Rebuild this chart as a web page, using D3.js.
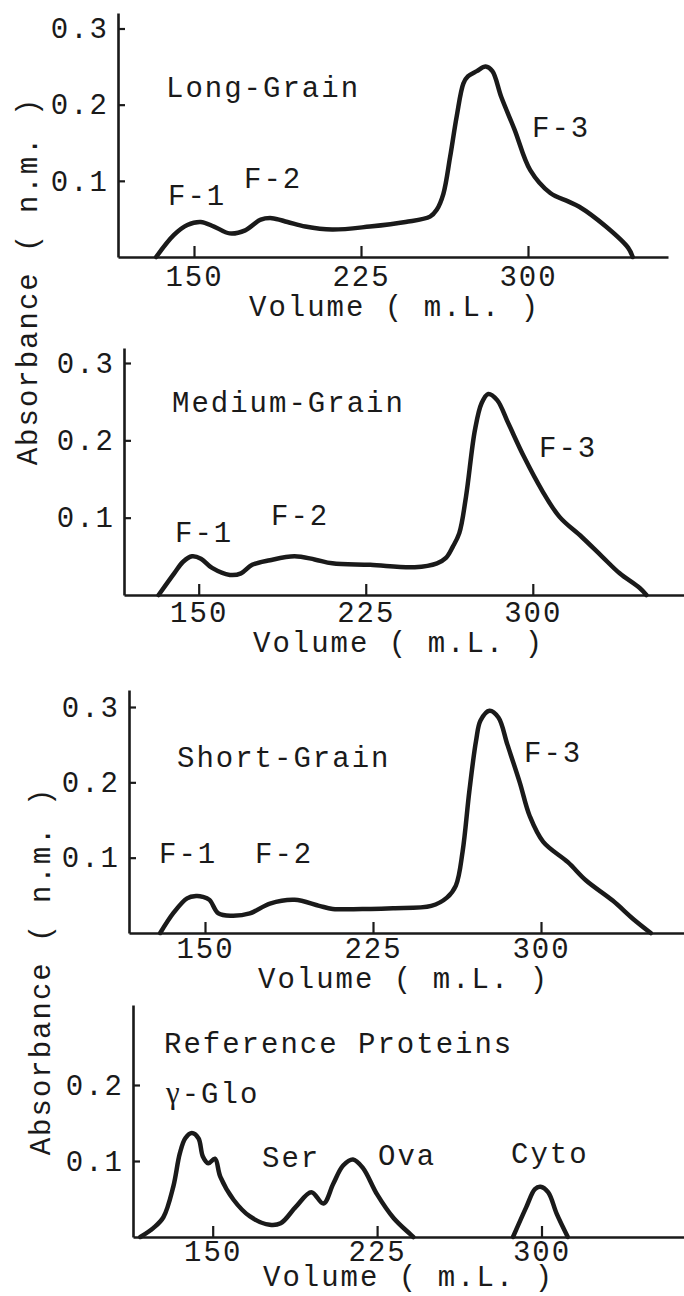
<!DOCTYPE html>
<html>
<head>
<meta charset="utf-8">
<script src="https://cdn.jsdelivr.net/npm/d3@7"></script>
<style>
  html, body { margin: 0; padding: 0; background: #fff; }
  svg { display: block; background: #fff; }
  text {
    font-family: "Liberation Mono", "DejaVu Sans Mono", monospace;
    font-size: 29px;
    letter-spacing: 2px;
    fill: #1a1a1a;
    white-space: pre;
  }
  tspan.greek { font-family: "Liberation Serif", "DejaVu Serif", serif; font-size: 31px; }
</style>
</head>
<body>
<svg id="chart" width="684" height="1296"></svg>
<script>
// tick values and text
const xTicks = [150, 225, 300];
const yTicks = [0.1, 0.2, 0.3];
const refYTicks = [0.1, 0.2];
const panelTitles = ["Long-Grain", "Medium-Grain", "Short-Grain", "Reference Proteins"];
const fractionNames = ["F-1", "F-2", "F-3"];
const proteinNames = ["γ-Glo", "Ser", "Ova", "Cyto"];
const xLabel = "Volume ( m.L. )";
const yLabel = "Absorbance ( n.m. )";

// elution profiles, volume (mL) vs absorbance
const longVol = [133, 141, 147, 153, 159, 166, 173, 180, 185, 192, 200, 212, 229, 245, 256, 259, 262, 265, 268, 271, 273, 277, 281, 284, 288, 294, 301, 310, 318, 323, 335, 345, 347];
const longAbs = [0, 0.029, 0.042, 0.046, 0.04, 0.031, 0.035, 0.049, 0.051, 0.046, 0.04, 0.036, 0.04, 0.046, 0.053, 0.062, 0.083, 0.131, 0.185, 0.228, 0.237, 0.244, 0.25, 0.244, 0.21, 0.167, 0.114, 0.084, 0.073, 0.066, 0.04, 0.012, 0];

const mediumVol = [132, 139, 143, 147, 151, 156, 164, 169, 174, 182, 193, 202, 210, 227, 247, 257, 261, 264, 267, 270, 274, 277, 280, 284, 289, 296, 304, 312, 322, 331, 339, 348, 351];
const mediumAbs = [0, 0.028, 0.043, 0.05, 0.047, 0.035, 0.026, 0.028, 0.039, 0.045, 0.05, 0.046, 0.041, 0.039, 0.036, 0.041, 0.048, 0.062, 0.08, 0.127, 0.213, 0.248, 0.26, 0.252, 0.222, 0.179, 0.136, 0.101, 0.075, 0.05, 0.028, 0.009, 0];

const shortVol = [130, 136, 142, 146, 149, 152, 156, 162, 170, 179, 190, 201, 207, 224, 234, 251, 258, 262, 265, 268, 271, 273, 277, 281, 285, 290.5, 295, 301, 312, 320, 332, 341, 349];
const shortAbs = [0, 0.027, 0.046, 0.049, 0.048, 0.044, 0.026, 0.023, 0.026, 0.039, 0.044, 0.036, 0.032, 0.032, 0.033, 0.036, 0.047, 0.063, 0.108, 0.188, 0.255, 0.282, 0.295, 0.286, 0.25, 0.2, 0.155, 0.121, 0.094, 0.07, 0.043, 0.019, 0];

const refVol = [117, 123, 127.5, 132, 135, 137.5, 140.5, 143.5, 145.5, 148, 151, 153.5, 159.5, 167, 176, 181, 188, 195, 200.5, 205, 209.5, 214, 218.5, 225, 232.5, 240, 241.5];
const refAbs = [0, 0.012, 0.026, 0.066, 0.11, 0.13, 0.137, 0.13, 0.106, 0.097, 0.103, 0.079, 0.049, 0.027, 0.016, 0.018, 0.04, 0.059, 0.044, 0.07, 0.094, 0.102, 0.091, 0.056, 0.025, 0.004, 0];

const cytoVol = [287, 293, 297, 299.5, 303, 307, 312];
const cytoAbs = [0, 0.039, 0.063, 0.066, 0.059, 0.03, 0];

// page layout of the four stacked plots (pixels)
const panels = [
  { title: panelTitles[0], series: [[longVol, longAbs]], yTickVals: yTicks, yMax: 0.3,
    left: 118, right: 668, top: 13, base: 257, x150: 194, x300: 528, yAtMax: 28.5, tickPad: 8,
    titlePos: [166, 97], xLabelPos: [249, 316],
    notes: fractionNames, notePos: [[168, 205], [244, 188], [532, 137]] },
  { title: panelTitles[1], series: [[mediumVol, mediumAbs]], yTickVals: yTicks, yMax: 0.3,
    left: 124, right: 684, top: 348, base: 595, x150: 198.7, x300: 532.8, yAtMax: 363, tickPad: 6,
    titlePos: [172, 412], xLabelPos: [253, 652],
    notes: fractionNames, notePos: [[175, 542], [271, 525], [539, 457]] },
  { title: panelTitles[2], series: [[shortVol, shortAbs]], yTickVals: yTicks, yMax: 0.3,
    left: 129, right: 684, top: 690, base: 933, x150: 205, x300: 541, yAtMax: 707, tickPad: 4,
    titlePos: [177, 767], xLabelPos: [258, 988],
    notes: fractionNames, notePos: [[159, 863], [255, 863], [524, 762]] },
  { title: panelTitles[3], series: [[refVol, refAbs], [cytoVol, cytoAbs]], yTickVals: refYTicks, yMax: 0.2,
    left: 133, right: 684, top: 1005, base: 1237, x150: 212.7, x300: 541.5, yAtMax: 1085, tickPad: 3,
    titlePos: [164, 1053], xLabelPos: [263, 1286],
    notes: proteinNames, notePos: [[166, 1103], [262, 1167], [378, 1165], [511, 1163]] }
];

const ink = "#1a1a1a";
const svg = d3.select("#chart");

panels.forEach(p => {
  const g = svg.append("g");

  const x0 = d3.scaleLinear().domain([150, 300]).range([p.x150, p.x300]);
  const x = d3.scaleLinear().domain([x0.invert(p.left), x0.invert(p.right)]).range([p.left, p.right]);
  const y0 = d3.scaleLinear().domain([0, p.yMax]).range([p.base, p.yAtMax]);
  const y = d3.scaleLinear().domain([0, y0.invert(p.top)]).range([p.base, p.top]);

  // x axis, ticks pointing up
  const xa = g.append("g")
    .attr("transform", `translate(0,${p.base})`)
    .call(d3.axisBottom(x).tickValues(xTicks).tickSizeInner(-11).tickSizeOuter(0).tickPadding(p.tickPad))
    .attr("font-family", null).attr("font-size", null).attr("color", ink);
  xa.select(".domain").attr("stroke-width", 2.6);
  xa.selectAll(".tick line").attr("stroke-width", 2.2);

  // y axis, ticks pointing right
  const ya = g.append("g")
    .attr("transform", `translate(${p.left},0)`)
    .call(d3.axisLeft(y).tickValues(p.yTickVals).tickFormat(d3.format(".1f")).tickSizeInner(-7).tickSizeOuter(0).tickPadding(9))
    .attr("font-family", null).attr("font-size", null).attr("color", ink);
  ya.select(".domain").attr("stroke-width", 2.6);
  ya.selectAll(".tick line").attr("stroke-width", 2.2);

  // traces
  const line = d3.line()
    .x(d => x(d[0]))
    .y(d => y(d[1]))
    .curve(d3.curveCatmullRom.alpha(0.5));

  p.series.forEach(([vol, abs]) => {
    g.append("path")
      .datum(d3.zip(vol, abs))
      .attr("fill", "none")
      .attr("stroke", ink)
      .attr("stroke-width", 4.5)
      .attr("stroke-linejoin", "round")
      .attr("stroke-linecap", "round")
      .attr("d", line);
  });

  g.append("text")
    .attr("x", p.titlePos[0]).attr("y", p.titlePos[1])
    .text(p.title);

  // peak names; a leading Greek letter gets a serif face
  g.selectAll(".note")
    .data(p.notes)
    .enter().append("text")
    .attr("class", "note")
    .attr("x", (d, i) => p.notePos[i][0])
    .attr("y", (d, i) => p.notePos[i][1])
    .each(function(d) {
      const t = d3.select(this);
      if (/^[\u0370-\u03ff]/.test(d)) {
        t.append("tspan").attr("class", "greek").text(d[0]);
        t.append("tspan").text(d.slice(1));
      } else {
        t.text(d);
      }
    });

  g.append("text")
    .attr("x", p.xLabelPos[0]).attr("y", p.xLabelPos[1])
    .text(xLabel);
});

// shared y labels, one per pair of plots
[[37, 281], [50, 971]].forEach(([lx, ly]) => {
  svg.append("text")
    .attr("transform", `translate(${lx},${ly}) rotate(-90)`)
    .attr("text-anchor", "middle")
    .text(yLabel);
});
</script>
</body>
</html>
